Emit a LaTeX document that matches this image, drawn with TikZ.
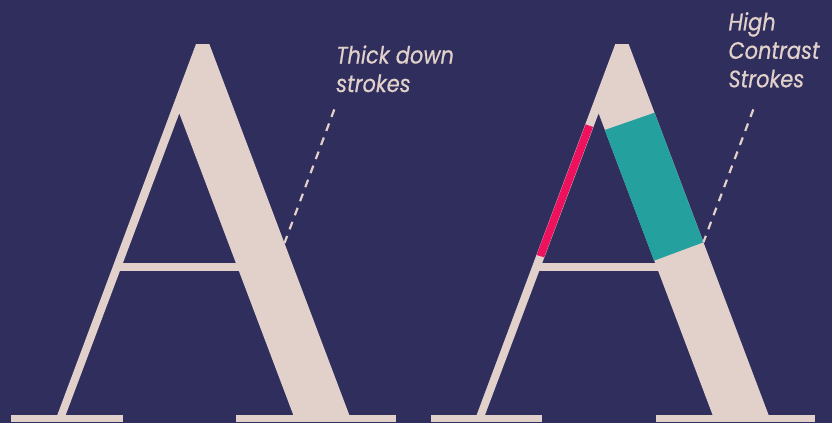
\documentclass[tikz,border=0pt]{standalone}
\usepackage{fontspec}
\newfontfamily\calloutfont[FakeStretch=0.88, FakeBold=0.5]{Poppins}
\usetikzlibrary{positioning}
\definecolor{Ink}{HTML}{2F2E5D}
\definecolor{Blush}{HTML}{E2D1CB}
\definecolor{Rose}{HTML}{EE125E}
\definecolor{Teal}{HTML}{24A19F}
\tikzset{
  glyph/.style={fill=Blush, draw=none},
  callout/.style={inner sep=0pt, align=left, text=Blush,
    font=\calloutfont\itshape\fontsize{23.8}{28.5}\selectfont},
  leader/.style={draw=Blush, line width=2.2pt, dash pattern=on 8pt off 7pt}
}
% one serif A, drawn in pixel units of the picture
\newcommand{\glyphA}{%
  \fill[glyph] (196,44) -- (209.3,44) -- (349.3,415) -- (293.3,415)
    -- (179.3,113.3) -- (65.7,415) -- (57.3,415) -- cycle;
  \fill[glyph] (118,263.3) rectangle (260,270.7);
  \fill[glyph] (11.3,415) rectangle (122.7,422);
  \fill[glyph] (236.3,415) rectangle (395.7,422);
}

\begin{document}
\begin{tikzpicture}[x=1pt, y=-1pt]
  \fill[Ink] (0,0) rectangle (832,423);
  \useasboundingbox (0,0) rectangle (832,423);

  % left letter
  \glyphA
  % right letter with the marked strokes
  \begin{scope}[xshift=419.3pt]
    \glyphA
  \end{scope}
  \fill[Rose] (585.6,124.3) -- (593.1,127) -- (544.1,257.3) -- (536.6,255) -- cycle;
  \fill[Teal] (604.8,130) -- (654.5,112.7) -- (703.4,242.3) -- (654,260.7) -- cycle;

  % base anchor sits on the last line
  \node[callout, anchor=base west] (thick) at (336,92) {Thick down\\strokes};
  \node[callout, anchor=base west] (contrast) at (728.3,87.3) {High\\Contrast\\Strokes};
  \coordinate (thickend) at (284.5,243);
  \coordinate (contrastend) at (703.4,242.3);

  \draw[leader] ([shift={(-1.7,17)}]thick.south west) -- (thickend);
  \draw[leader] ([shift={(25,21.7)}]contrast.south west) -- (contrastend);
\end{tikzpicture}
\end{document}
